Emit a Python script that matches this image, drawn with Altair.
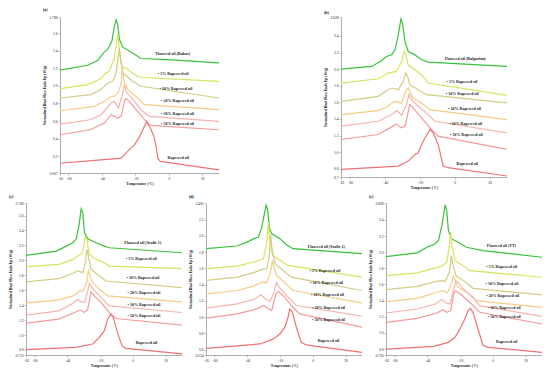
import altair as alt
import pandas as pd

NAMES = ["Flaxseed oil", "5%", "10%", "20%", "30%", "50%", "Rapeseed oil"]
BLEND_LABELS = ["• 5% Rapeseed oil", "• 10% Rapeseed oil", "• 20% Rapeseed oil",
                "• 30% Rapeseed oil", "• 50% Rapeseed oil", "Rapeseed oil"]

# ---------------- panel (a) ----------------
A_T = [
    [-65, -48.5, -42.5, -38.5, -36.5, -34, -32.5, -31.5, -30.5, -29.5, -27.5, -23.6, -19.6, -16.6, -0.7, 30],
    [-65, -48.5, -41.5, -37.5, -35.5, -32.5, -30.5, -29.5, -28, -24.5, -20.6, -17.6, 30],
    [-65, -46.5, -40.5, -36.5, -33.5, -31.5, -29.5, -28.5, -27.5, -21.6, -16.6, 30],
    [-65, -44.5, -38.5, -34.5, -32.5, -30.5, -28.5, -27.7, -26.8, -24.5, -18.6, -14.6, 30],
    [-65, -47, -40.5, -34.5, -32.5, -30.1, -27.5, -26.5, -25.5, -20.6, -15.6, -11.6, 30],
    [-65, -47, -38.5, -34.5, -32.5, -30.5, -28.5, -26.5, -25.5, -23.6, -18.6, -13.6, -10.6, 30],
    [-65, -40.5, -28.5, -25.6, -22.6, -20.6, -18, -15.5, -13.2, -11, -9, -7.5, -6.5, -5, 30],
]
A_V = [
    [1.179, 1.236, 1.290, 1.389, 1.416, 1.511, 1.683, 1.752, 1.702, 1.530, 1.442, 1.397, 1.351, 1.313, 1.301, 1.263],
    [0.969, 1.015, 1.072, 1.149, 1.168, 1.320, 1.587, 1.397, 1.225, 1.187, 1.130, 1.099, 1.053],
    [0.862, 0.901, 0.958, 1.034, 1.053, 1.149, 1.435, 1.263, 1.149, 1.053, 0.996, 0.862],
    [0.717, 0.767, 0.824, 0.881, 0.881, 0.920, 1.015, 1.225, 1.053, 0.958, 0.862, 0.786, 0.729],
    [0.565, 0.614, 0.672, 0.805, 0.824, 0.748, 0.920, 1.015, 0.939, 0.824, 0.710, 0.653, 0.595],
    [0.443, 0.500, 0.576, 0.672, 0.653, 0.633, 0.653, 0.824, 0.855, 0.824, 0.710, 0.595, 0.550, 0.500],
    [0.118, 0.156, 0.176, 0.233, 0.290, 0.328, 0.40, 0.50, 0.595, 0.52, 0.43, 0.30, 0.17, 0.14, 0.042],
]
A_LT = [-8.0, -6.6, -5.6, -4.6, -4.6, -4.6, -0.7]
A_LV = [1.366, 1.137, 0.969, 0.824, 0.679, 0.565, 0.176]
A_Y = [0.007, 1.786]
A_TICKS = [0.2, 0.4, 0.6, 0.8, 1.0, 1.2, 1.4, 1.6]
A_COLORS = ["#38c238", "#d4e65e", "#d2cc84", "#f7cc86", "#f6b4ac", "#f49a9a", "#f07272"]

# ---------------- panel (b) ----------------
B_T = [
    [-65, -47.5, -41.8, -39, -36, -34.1, -32.2, -30.7, -29.8, -28.4, -26.5, -22.7, -18.9, -15.1, 30],
    [-65, -43.7, -38, -33.2, -30.3, -28.8, -27.9, -26.5, -22.7, -18, -15.1, 30],
    [-65, -43.7, -38, -36, -32.2, -29.4, -27.9, -26.9, -25.6, -20.8, -16, 30],
    [-65, -43.7, -38, -35.1, -33.2, -30.3, -28.1, -26.5, -25.6, -23.7, -18.9, -14.1, 30],
    [-65, -43.7, -36, -33.2, -30.3, -27.5, -26, -24.6, -20.8, -15.1, -11.3, 30],
    [-65, -43.7, -37, -33.2, -30.7, -28.4, -25.6, -23.7, -18.9, -14.1, -9.4, 30],
    [-65, -41.8, -32.2, -26.5, -22.7, -20.8, -18, -14.1, -12.2, -9.4, -6.5, -3.7, 30],
]
B_V = [
    [2.0, 2.032, 2.1, 2.152, 2.172, 2.232, 2.412, 2.604, 2.552, 2.332, 2.212, 2.172, 2.112, 2.084, 2.032],
    [1.832, 1.884, 1.952, 1.972, 2.092, 2.212, 2.172, 2.052, 1.992, 1.912, 1.832, 1.684],
    [1.612, 1.672, 1.752, 1.772, 1.752, 1.852, 1.952, 1.912, 1.812, 1.752, 1.692, 1.592],
    [1.452, 1.5, 1.552, 1.604, 1.612, 1.592, 1.732, 1.772, 1.732, 1.652, 1.592, 1.512, 1.392],
    [1.312, 1.372, 1.452, 1.5, 1.444, 1.572, 1.7, 1.632, 1.552, 1.452, 1.372, 1.232],
    [1.152, 1.212, 1.292, 1.34, 1.292, 1.312, 1.572, 1.532, 1.412, 1.292, 1.192, 1.032],
    [0.792, 0.82, 0.832, 0.892, 0.972, 0.992, 1.132, 1.272, 1.232, 1.092, 0.832, 0.812, 0.712],
]
B_LT = [-5.6, -4.6, -5.0, -3.7, -3.1, -2.7, 1.1]
B_LV = [2.124, 1.844, 1.7, 1.524, 1.344, 1.204, 0.86]
B_Y = [0.7, 2.628]
B_TICKS = [0.8, 1.0, 1.2, 1.4, 1.6, 1.8, 2.0, 2.2, 2.4]
B_COLORS = ["#2ab32a", "#98e888", "#c8bd74", "#ffcc84", "#f7c0c0", "#f39eab", "#ef7486"]

# ---------------- panel (c) ----------------
C_T = [
    [-65, -46.5, -40.5, -36.4, -34.4, -32.8, -31.4, -30.4, -29.4, -27.4, -22.3, -17.3, -14.3, 30],
    [-65, -45, -36.4, -33.4, -31.4, -30, -28.8, -27.8, -26.4, -22.3, -17.3, -14.3, 30],
    [-65, -45, -36.4, -33.4, -30.4, -28.8, -27.8, -27, -25.4, -20.3, -16.3, 30],
    [-65, -45, -36.4, -32.4, -30.4, -28, -27, -26, -24.4, -20.3, -15.3, 30],
    [-65, -45, -37.4, -33.4, -31.4, -29.4, -27.4, -26.4, -24.8, -20.3, -14.3, 30],
    [-65, -45, -35.4, -32, -29.4, -27.4, -25.4, -23.4, -19.3, -14.3, -10.3, 30],
    [-65, -34.9, -24.4, -20.3, -17.3, -15.3, -13.3, -11.9, -9.3, -6.6, -4.2, 30],
]
C_V = [
    [2.067, 2.124, 2.191, 2.236, 2.289, 2.458, 2.689, 2.636, 2.369, 2.289, 2.236, 2.191, 2.169, 2.102],
    [1.916, 1.947, 2.013, 2.058, 2.08, 2.169, 2.324, 2.258, 2.08, 2.013, 1.969, 1.924, 1.889],
    [1.711, 1.756, 1.827, 1.858, 1.836, 1.969, 2.147, 2.058, 1.88, 1.791, 1.724, 1.636],
    [1.427, 1.471, 1.524, 1.591, 1.591, 1.702, 1.88, 1.791, 1.702, 1.613, 1.524, 1.444],
    [1.267, 1.324, 1.413, 1.48, 1.444, 1.436, 1.591, 1.693, 1.636, 1.524, 1.391, 1.302],
    [1.16, 1.213, 1.302, 1.338, 1.302, 1.347, 1.578, 1.524, 1.436, 1.302, 1.222, 1.133],
    [0.804, 0.836, 0.88, 0.969, 1.058, 1.213, 1.28, 1.236, 1.036, 0.858, 0.822, 0.747],
]
C_LT = [-5.2, -4.2, -3.8, -3.2, -3.2, -3.2, 1.8]
C_LV = [2.227, 2.013, 1.769, 1.569, 1.404, 1.249, 0.893]
C_Y = [0.733, 2.768]
C_TICKS = [0.8, 1.0, 1.2, 1.4, 1.6, 1.8, 2.0, 2.2, 2.4, 2.6]

# ---------------- panel (d) ----------------
D_T = [
    [-65, -46, -39, -36, -33, -31, -28.4, -27.4, -26.4, -25, -20, -16, -12, 30],
    [-65, -46, -38, -33, -30, -28, -27, -26, -24.4, -20, -15, 30],
    [-65, -46, -36, -31, -28, -26.4, -25.6, -24.8, -23, -18, -13, 30],
    [-65, -46, -36, -31, -28, -25.6, -24.6, -23.6, -22, -17, -12, 30],
    [-65, -46, -35, -31.6, -29, -26, -23.6, -22, -20.4, -16, -10, 30],
    [-65, -46, -34, -30, -27, -25, -22.4, -21, -18, -13, -8, 30],
    [-65, -32, -24, -20, -17, -15, -14, -12.4, -10, -7, -4, 30],
]
D_V = [
    [1.843, 1.876, 1.933, 1.966, 1.987, 2.11, 2.378, 2.316, 2.09, 2.028, 1.966, 1.892, 1.843, 1.781],
    [1.596, 1.629, 1.67, 1.695, 1.72, 1.925, 2.164, 1.925, 1.76, 1.699, 1.637, 1.493],
    [1.452, 1.493, 1.547, 1.588, 1.596, 1.76, 2.016, 1.843, 1.658, 1.575, 1.493, 1.328],
    [1.287, 1.328, 1.382, 1.431, 1.423, 1.555, 1.699, 1.616, 1.514, 1.423, 1.328, 1.176],
    [1.11, 1.164, 1.226, 1.275, 1.226, 1.193, 1.308, 1.423, 1.37, 1.267, 1.143, 1.012],
    [0.987, 1.04, 1.102, 1.143, 1.102, 1.081, 1.287, 1.316, 1.267, 1.143, 1.04, 0.876],
    [0.616, 0.67, 0.732, 0.793, 0.876, 0.999, 1.102, 1.061, 0.876, 0.691, 0.658, 0.567],
]
D_LT = [-3.0, -2.0, -1.6, -1.0, -0.4, -0.4, 3.0]
D_LV = [1.863, 1.563, 1.423, 1.267, 1.11, 0.97, 0.711]
D_Y = [0.534, 2.405]
D_TICKS = [0.6, 0.8, 1.0, 1.2, 1.4, 1.6, 1.8, 2.0, 2.2]

# ---------------- panel (e) ----------------
E_T = [
    [-65, -46, -39, -36, -33, -31, -29, -28, -27, -25, -21, -16, -6, 30],
    [-65, -46, -36, -31, -28, -26.4, -25.6, -24.8, -23, -18, -14, 30],
    [-65, -46, -35, -31, -29, -26.4, -25.2, -24.4, -22.4, -17, -12, 30],
    [-65, -46, -34, -30.4, -27.6, -25, -24, -23, -21, -16, -10, 30],
    [-65, -46, -35, -31, -28.4, -26, -23.6, -22.4, -21, -17, -12, -8, 30],
    [-65, -46, -34, -30.4, -28, -25.6, -23.6, -22.4, -19, -14, -8, 30],
    [-65, -36, -27, -23, -20, -17, -15, -13.6, -12, -9, -6, -3, 30],
]
E_V = [
    [1.945, 1.991, 2.073, 2.09, 2.144, 2.33, 2.586, 2.516, 2.268, 2.164, 2.123, 2.061, 2.02, 1.937],
    [1.709, 1.743, 1.8, 1.825, 1.875, 2.082, 2.247, 2.082, 1.896, 1.833, 1.771, 1.689],
    [1.536, 1.577, 1.635, 1.647, 1.635, 1.751, 1.958, 1.854, 1.709, 1.635, 1.552, 1.47],
    [1.387, 1.428, 1.503, 1.523, 1.494, 1.619, 1.709, 1.66, 1.565, 1.503, 1.399, 1.317],
    [1.246, 1.296, 1.358, 1.412, 1.37, 1.358, 1.544, 1.647, 1.619, 1.523, 1.441, 1.337, 1.205],
    [1.131, 1.18, 1.246, 1.288, 1.255, 1.275, 1.503, 1.523, 1.47, 1.379, 1.255, 1.11],
    [0.8, 0.833, 0.883, 0.945, 1.048, 1.172, 1.275, 1.304, 1.255, 1.048, 0.85, 0.821, 0.759],
]
E_LT = [-3.6, -4.0, -4.4, -4.0, -3.0, -3.0, 2.0]
E_LV = [2.073, 1.813, 1.606, 1.461, 1.304, 1.193, 0.883]
E_Y = [0.726, 2.609]
E_TICKS = [0.8, 1.0, 1.2, 1.4, 1.6, 1.8, 2.0, 2.2, 2.4]

CDE_COLORS = ["#579a36", "#a6d460", "#c7dc82", "#dbe684", "#e0c8b4", "#d6b0a2", "#c79285"]

FLAX_NAMES = {"a": "Flaxseed oil (Bukoz)", "b": "Flaxseed oil (Bulgarian)",
              "c": "Flaxseed oil (Szafir 1)", "d": "Flaxseed oil (Szafir 2)",
              "e": "Flaxseed oil (TT)"}

X_DOMAIN = [-65, 30]
X_TICKS = [-65, -60, -40, -20, 0, 20]
FONT = "Liberation Serif"

AXIS_STYLE = dict(grid=False, domainColor="#999", tickColor="#999", tickSize=2,
                  domainWidth=0.8, tickWidth=0.6, labelFontSize=3.6, labelFont=FONT,
                  labelColor="#222", labelPadding=1, titleFontSize=3.6, titleFont=FONT,
                  titleColor="#222", titlePadding=2, labelOverlap=False,
                  labelFlush=False, labelBound=False, titleFontWeight="bold")


def panel(key, T, V, LT, LV, ydom, yticks, colors, w, h, title_offset=2):
    rows = []
    for i, (ts, vs) in enumerate(zip(T, V)):
        for j, (t, v) in enumerate(zip(ts, vs)):
            rows.append({"series": NAMES[i], "T": t, "v": v, "ord": j})
    df = pd.DataFrame(rows)
    labels = [FLAX_NAMES[key]] + BLEND_LABELS
    ldf = pd.DataFrame({"text": labels, "T": LT, "v": LV})

    lo, hi = ydom
    xs = alt.Scale(domain=X_DOMAIN, nice=False, zero=False)
    ys = alt.Scale(domain=[lo, hi], nice=False, zero=False)
    label_expr = (f"(datum.value <= {lo} + 0.0001 || datum.value >= {hi} - 0.0001) "
                  f"? format(datum.value, '.3~f') : format(datum.value, '.1f')")
    x_axis = alt.Axis(values=X_TICKS, title="Temperature (°C)", format="d", **AXIS_STYLE)
    y_axis = alt.Axis(values=[lo] + yticks + [hi], labelExpr=label_expr,
                      title="Normalized Heat Flow Endo Up (W/g)", **AXIS_STYLE)

    lines = alt.Chart(df).mark_line(strokeWidth=1.2, clip=True).encode(
        x=alt.X("T:Q", scale=xs, axis=x_axis),
        y=alt.Y("v:Q", scale=ys, axis=y_axis),
        color=alt.Color("series:N", scale=alt.Scale(domain=NAMES, range=colors), legend=None),
        detail="series:N",
        order="ord:Q",
    )
    text = alt.Chart(ldf).mark_text(align="left", baseline="middle", fontSize=4,
                                    font=FONT, fontWeight="bold", color="#222").encode(
        x=alt.X("T:Q", scale=xs, axis=x_axis),
        y=alt.Y("v:Q", scale=ys, axis=y_axis),
        text="text:N",
    )
    return alt.layer(lines, text).properties(
        width=w, height=h,
        title=alt.TitleParams(f"({key})", anchor="start", fontSize=4, font=FONT,
                              fontWeight="bold", offset=title_offset, frame="bounds"),
    )


def spacer(w, h=10):
    return alt.Chart(pd.DataFrame({"z": [0]})).mark_point(opacity=0).encode(
        x=alt.value(0), y=alt.value(0)).properties(width=w, height=h)


pa = panel("a", A_T, A_V, A_LT, A_LV, A_Y, A_TICKS, A_COLORS, 159, 156, title_offset=3)
pb = panel("b", B_T, B_V, B_LT, B_LV, B_Y, B_TICKS, B_COLORS, 166, 160, title_offset=0)
pc = panel("c", C_T, C_V, C_LT, C_LV, C_Y, C_TICKS, CDE_COLORS, 156, 152)
pd_ = panel("d", D_T, D_V, D_LT, D_LV, D_Y, D_TICKS, CDE_COLORS, 156, 152)
pe = panel("e", E_T, E_V, E_LT, E_LV, E_Y, E_TICKS, CDE_COLORS, 156, 152)

row1 = alt.hconcat(spacer(16), pa, spacer(101), pb, spacing=0)
row2 = alt.hconcat(pc, pd_, pe, spacing=6)

chart = alt.vconcat(row1, row2, spacing=5).properties(padding=0).configure_view(
    stroke=None
).configure_concat(spacing=0)

chart.save("out.html", embed_options={"renderer": "svg", "actions": False})
